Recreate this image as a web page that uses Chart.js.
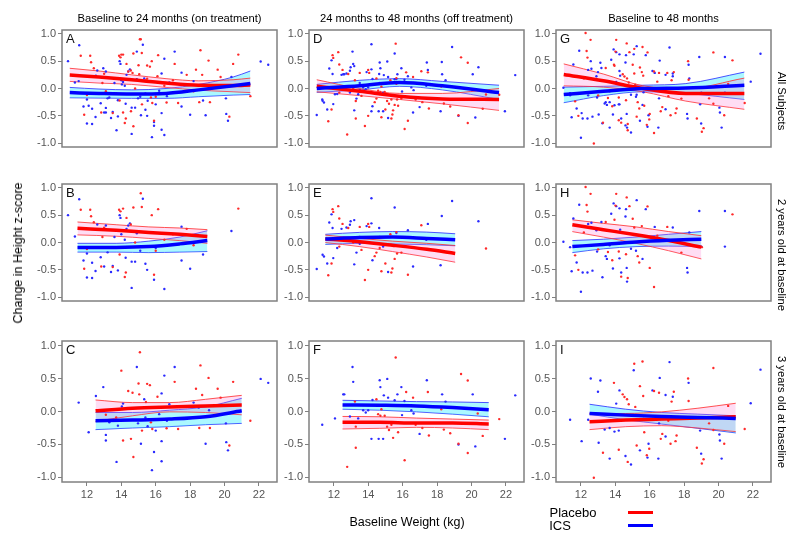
<!DOCTYPE html>
<html>
<head>
<meta charset="UTF-8">
<title>Change in Height z-score by Baseline Weight</title>
<script src="https://cdn.jsdelivr.net/npm/chart.js@4"></script>
<style>
  body { margin: 0; width: 800px; height: 544px; background: #fff; position: relative; overflow: hidden;
         font-family: "Liberation Sans", Arial, sans-serif; }
  .panel { position: absolute; }
  .txt { position: absolute; white-space: nowrap; color: #000; transform: translate(-50%, -50%); }
  .legline { position: absolute; height: 3px; width: 25px; }
</style>
</head>
<body>

<script>
  // ---- labels ----
  const colTitles = ['Baseline to 24 months (on treatment)', '24 months to 48 months (off treatment)', 'Baseline to 48 months'];
  const rowTitles = ['All Subjects', '2 years old at baseline', '3 years old at baseline'];
  const xTickValues = [12, 14, 16, 18, 20, 22];
  const yTickValues = [-1, -0.5, 0, 0.5, 1];

  // ---- scatter points [baseline weight, change in z-score] ----
  // 2 years old
  const placeboPtsB = [[11.64,0.6],[11.84,-0.48],[12.19,0.6],[12.24,0.48],[12.4,0.37],[12.83,-0.44],[13.87,0.6],[13.95,0.57],[14.1,0.62],[14.2,-0.63],[14.26,-0.55],[14.55,0.33],[14.7,0.64],[15.13,0.9],[15.19,0.65],[15.77,0.5],[16.14,0.61],[15.9,-0.59],[13.9,-0.22],[13.0,0.27],[14.8,0.0],[16.0,-0.15],[17.0,0.15],[18.2,-0.05],[20.8,0.62],[12.9,0.1],[15.5,0.18],[14.3,0.45],[13.5,-0.45],[12.0,-0.12],[16.5,0.05],[17.8,0.25]];
  const icsPtsB = [[10.9,0.5],[11.3,0.11],[11.55,0.79],[11.8,-0.33],[12.0,-0.64],[12.3,-0.65],[12.3,-0.37],[12.5,-0.52],[12.6,0.33],[12.8,-0.27],[13.1,0.31],[13.0,-0.44],[13.4,-0.54],[13.5,-0.43],[13.6,0.1],[13.8,-0.51],[13.9,0.5],[13.95,0.45],[14.2,0.05],[14.25,-0.28],[14.3,0.25],[14.4,0.31],[14.5,0.35],[14.6,-0.35],[14.6,-0.83],[14.8,-0.35],[15.1,-0.15],[15.25,0.8],[15.4,-0.39],[15.5,-0.5],[15.9,-0.68],[16.5,-0.85],[17.5,0.29],[17.5,-0.33],[18.0,-0.48],[18.75,-0.22],[20.4,0.21],[12.0,-0.2],[13.2,-0.18],[14.0,0.15],[16.0,-0.1],[14.9,0.17]];
  const placeboPtsE = [[11.67,-0.6],[11.86,-0.385],[11.92,0.61],[11.96,0.56],[12.25,0.665],[12.31,0.44],[12.31,-0.075],[12.5,0.34],[12.83,0.265],[13.12,0.0],[13.5,0.285],[13.6,-0.135],[13.8,-0.685],[13.99,-0.5],[13.99,0.34],[14.05,0.285],[14.37,-0.25],[14.47,-0.185],[14.76,-0.525],[14.99,-0.385],[15.28,0.15],[15.4,-0.475],[15.53,-0.3],[15.63,0.19],[15.67,-0.2],[15.92,-0.185],[16.3,-0.59],[17.08,0.315],[20.84,-0.11],[15.34,-0.55],[14.66,-0.1]];
  const icsPtsE = [[11.0,-0.485],[11.34,-0.225],[11.42,-0.255],[11.61,-0.385],[11.73,0.365],[11.86,0.515],[11.92,0.265],[11.96,-0.285],[12.19,-0.1],[12.44,0.25],[12.73,0.275],[12.93,0.325],[12.97,0.39],[13.18,0.41],[13.18,-0.4],[13.31,-0.185],[13.5,0.1],[13.9,0.3],[14.18,0.81],[14.24,-0.325],[14.18,0.35],[14.63,0.265],[14.66,0.1],[15.15,-0.54],[15.53,0.64],[15.63,0.175],[16.3,0.225],[16.6,-0.44],[17.46,0.34],[17.37,0.05],[18.2,-0.415],[18.27,0.485],[18.87,0.76],[20.4,0.39],[13.5,-0.025],[14.86,-0.075]];
  const placeboPtsH = [[11.66,-0.235],[11.85,-0.5],[12.17,0.185],[12.27,1.015],[12.33,0.685],[12.38,0.565],[12.56,0.89],[13.0,-0.125],[13.44,0.375],[13.57,-0.175],[13.82,-0.325],[13.95,0.415],[14.01,0.675],[14.05,0.89],[14.2,-0.165],[14.34,-0.625],[14.62,-0.215],[14.66,0.825],[14.72,-0.65],[14.82,0.665],[15.01,0.435],[15.1,0.275],[15.3,-0.25],[15.39,-0.365],[15.54,0.3],[15.87,0.66],[16.0,-0.465],[16.25,-0.815],[16.44,0.125],[17.02,0.285],[17.84,-0.185],[20.81,0.515],[19.03,-0.085]];
  const icsPtsH = [[10.98,0.015],[11.37,-0.085],[11.46,-0.525],[11.56,0.44],[11.75,-0.365],[11.9,0.69],[12.0,-0.9],[12.1,-0.55],[12.38,-0.55],[12.42,0.34],[12.61,0.36],[12.67,-0.515],[12.9,0.225],[12.94,-0.165],[13.19,0.375],[13.25,-0.635],[13.44,-0.25],[13.51,-0.3],[13.67,-0.05],[13.76,0.525],[13.86,-0.475],[13.9,0.715],[14.05,0.665],[14.24,0.625],[14.24,-0.29],[14.28,0.235],[14.34,-0.55],[14.59,0.475],[14.62,0.61],[14.66,-0.465],[14.68,-0.715],[14.91,-0.115],[15.2,-0.15],[15.24,0.775],[15.58,-0.3],[15.77,0.61],[16.29,0.285],[17.34,0.275],[18.17,-0.465],[18.2,-0.55],[18.88,0.575],[19.0,-0.075],[20.37,0.575],[20.37,-0.075],[18.3,0.185]];
  // 3 years old
  const placeboPtsC = [[14.0,0.62],[14.1,-0.44],[14.4,0.31],[14.56,-0.415],[14.65,0.285],[14.7,-0.69],[15.0,0.425],[15.04,0.26],[15.08,0.9],[15.43,0.145],[15.5,0.42],[15.66,0.4],[15.72,-0.165],[15.8,-0.265],[16.1,0.225],[16.63,-0.255],[17.1,0.45],[17.3,-0.265],[18.34,0.345],[18.53,-0.25],[18.6,0.7],[18.7,0.25],[19.07,0.51],[19.15,-0.25],[19.6,0.345],[19.77,0.21],[20.28,-0.515],[20.5,0.45],[21.5,-0.14],[13.1,-0.05],[15.2,-0.29],[13.7,-0.09]];
  const icsPtsC = [[11.52,0.135],[12.1,-0.315],[12.52,0.235],[12.95,0.37],[13.1,-0.44],[13.1,-0.355],[13.3,-0.165],[13.72,-0.765],[13.8,-0.215],[14.03,0.075],[14.1,0.12],[14.9,0.675],[14.97,-0.18],[15.14,-0.49],[15.33,0.185],[15.53,-0.225],[15.78,-0.89],[15.9,-0.615],[16.0,-0.29],[16.34,0.275],[16.34,-0.45],[16.34,-0.755],[16.5,0.545],[16.65,-0.14],[16.79,0.11],[17.1,0.675],[18.2,0.135],[18.5,0.06],[18.9,-0.49],[19.1,0.02],[20.1,-0.465],[20.2,-0.59],[20.08,-0.18],[22.1,0.495],[22.54,0.435],[16.2,-0.04],[15.4,-0.09]];
  const placeboPtsF = [[12.77,-0.84],[13.22,0.15],[13.27,-0.23],[13.27,-0.55],[14.47,0.185],[14.57,-0.04],[14.7,-0.065],[14.76,0.035],[14.95,-0.065],[15.09,-0.23],[15.2,-0.28],[15.34,-0.2],[15.44,-0.4],[15.59,0.82],[15.73,-0.315],[16.11,-0.74],[16.2,0.295],[16.6,0.21],[16.75,-0.2],[17.14,-0.25],[17.46,0.295],[17.52,-0.365],[18.24,0.035],[18.39,-0.275],[18.76,-0.33],[19.24,-0.49],[19.39,0.57],[19.78,0.47],[19.78,-0.63],[20.36,-0.03],[20.65,-0.37],[21.61,-0.115],[15.63,0.085]];
  const icsPtsF = [[11.32,-0.2],[12.06,-0.105],[12.54,0.26],[12.6,0.26],[12.93,-0.075],[13.08,0.675],[13.12,0.45],[13.41,-0.105],[13.7,0.02],[13.85,-0.015],[13.99,0.02],[14.18,-0.415],[14.24,0.175],[14.6,-0.415],[14.66,0.475],[14.7,0.37],[14.86,-0.415],[14.9,0.245],[15.1,0.495],[15.15,0.21],[15.53,0.17],[15.69,0.26],[15.92,0.37],[15.96,-0.055],[16.1,0.16],[16.5,0.02],[16.63,-0.03],[16.98,-0.34],[17.4,0.475],[18.29,0.26],[18.49,0.15],[19.24,-0.5],[20.07,0.26],[20.22,-0.53],[21.94,-0.415],[22.54,0.245]];
  const placeboPtsI = [[12.75,-1.005],[13.28,-0.625],[13.92,0.435],[14.2,-0.58],[14.43,0.26],[14.53,0.22],[14.68,0.185],[14.72,-0.765],[14.78,0.11],[15.1,0.725],[15.16,0.07],[15.24,-0.515],[15.43,0.385],[15.58,0.76],[15.62,0.235],[15.68,-0.315],[15.83,-0.665],[15.97,-0.565],[16.25,0.31],[16.54,0.285],[16.64,-0.415],[16.73,-0.34],[17.08,-0.14],[17.21,-0.49],[17.27,0.15],[17.4,0.3],[17.5,-0.45],[17.56,-0.365],[18.23,0.5],[18.26,0.16],[18.74,-0.55],[19.03,-0.79],[19.13,-0.725],[19.45,-0.18],[19.7,0.66],[19.7,-0.28],[20.33,-0.49],[20.56,0.085],[21.52,-0.265]];
  const icsPtsI = [[11.37,-0.125],[12.04,-0.45],[12.42,-0.125],[12.57,0.5],[12.99,0.3],[13.03,-0.475],[13.13,0.47],[13.38,-0.275],[13.67,-0.715],[13.95,-0.305],[14.05,0.12],[14.2,-0.29],[14.24,0.32],[14.59,-0.675],[14.91,-0.805],[15.07,0.625],[15.24,-0.115],[15.43,-0.59],[15.87,-0.7],[15.93,-0.49],[16.16,0.32],[16.5,-0.715],[16.54,-0.18],[16.58,0.51],[16.92,-0.38],[16.92,0.25],[17.15,0.75],[17.34,0.225],[18.26,0.435],[18.93,-0.29],[18.99,-0.64],[20.05,-0.35],[20.08,-0.44],[20.18,-0.715],[21.87,0.125],[22.44,0.635],[13.67,-0.25],[15.64,-0.07]];
  // all subjects = 2 years + 3 years
  const placeboPtsA = placeboPtsB.concat(placeboPtsC);
  const icsPtsA = icsPtsB.concat(icsPtsC);
  const placeboPtsD = placeboPtsE.concat(placeboPtsF);
  const icsPtsD = icsPtsE.concat(icsPtsF);
  const placeboPtsG = placeboPtsH.concat(placeboPtsI);
  const icsPtsG = icsPtsH.concat(icsPtsI);

  // ---- smoothed fits with confidence limits ----
  const knotsA = [11.0, 12.7, 14.6, 16.6, 18.5, 20.5, 21.5];
  const placeboA = { fit: [0.245, 0.21, 0.16, 0.10, 0.06, 0.055, 0.065], upper: [0.37, 0.32, 0.25, 0.18, 0.14, 0.16, 0.19], lower: [0.13, 0.10, 0.075, 0.02, -0.03, -0.06, -0.075] };
  const icsA = { fit: [-0.075, -0.09, -0.10, -0.09, -0.025, 0.05, 0.09], upper: [0.02, -0.01, -0.025, 0.0, 0.075, 0.21, 0.32], lower: [-0.17, -0.175, -0.18, -0.18, -0.15, -0.12, -0.11] };

  const knotsB = [11.45, 13.7, 15.6, 17.4, 19.0];
  const placeboB = { fit: [0.26, 0.225, 0.185, 0.15, 0.11], upper: [0.375, 0.325, 0.285, 0.265, 0.235], lower: [0.14, 0.115, 0.075, 0.035, -0.015] };
  const icsB = { fit: [-0.09, -0.09, -0.075, -0.025, 0.035], upper: [-0.015, -0.015, 0.025, 0.10, 0.215], lower: [-0.175, -0.175, -0.185, -0.175, -0.165] };

  const knotsC = [12.5, 14.65, 16.8, 18.9, 21.0];
  const placeboC = { fit: [0.01, 0.05, 0.07, 0.085, 0.10], upper: [0.175, 0.135, 0.135, 0.185, 0.245], lower: [-0.15, -0.065, -0.005, -0.015, -0.05] };
  const icsC = { fit: [-0.14, -0.13, -0.115, -0.08, 0.01], upper: [-0.015, -0.015, 0.02, 0.07, 0.20], lower: [-0.275, -0.25, -0.23, -0.20, -0.18] };

  const knotsD = [11.0, 13.5, 15.8, 18.3, 21.6];
  const placeboD = { fit: [0.04, -0.05, -0.14, -0.19, -0.20], upper: [0.16, 0.0, -0.09, -0.09, 0.0], lower: [-0.06, -0.13, -0.20, -0.28, -0.40] };
  const icsD = { fit: [0.0, 0.05, 0.11, 0.05, -0.075], upper: [0.075, 0.15, 0.18, 0.13, 0.06], lower: [-0.07, -0.025, 0.04, -0.025, -0.20] };

  const knotsE = [11.5, 13.5, 15.4, 17.4, 19.05];
  const placeboE = { fit: [0.065, 0.015, -0.05, -0.125, -0.20], upper: [0.135, 0.075, 0.025, -0.015, -0.055], lower: [0.0, -0.075, -0.165, -0.265, -0.36] };
  const icsE = { fit: [0.065, 0.09, 0.10, 0.075, 0.05], upper: [0.15, 0.185, 0.20, 0.19, 0.16], lower: [-0.035, -0.015, -0.025, -0.04, -0.06] };

  const knotsF = [12.5, 14.66, 16.8, 18.9, 21.0];
  const placeboF = { fit: [-0.165, -0.165, -0.175, -0.175, -0.19], upper: [-0.075, -0.08, -0.10, -0.115, -0.13], lower: [-0.265, -0.255, -0.24, -0.25, -0.275] };
  const icsF = { fit: [0.10, 0.095, 0.085, 0.06, 0.025], upper: [0.17, 0.16, 0.15, 0.145, 0.135], lower: [0.035, 0.02, -0.005, -0.04, -0.08] };

  const knotsG = [11.0, 13.3, 15.6, 18.1, 21.5];
  const placeboG = { fit: [0.255, 0.14, 0.0, -0.09, -0.09], upper: [0.45, 0.265, 0.05, 0.0, 0.19], lower: [0.05, 0.025, -0.06, -0.23, -0.38] };
  const icsG = { fit: [-0.11, -0.05, 0.0, 0.01, 0.06], upper: [0.025, 0.04, 0.06, 0.09, 0.30], lower: [-0.26, -0.13, -0.06, -0.09, -0.20] };

  const knotsH = [11.5, 13.3, 15.2, 17.1, 19.0];
  const placeboH = { fit: [0.325, 0.235, 0.14, 0.035, -0.085], upper: [0.415, 0.35, 0.285, 0.20, 0.125], lower: [0.20, 0.10, -0.015, -0.15, -0.30] };
  const icsH = { fit: [-0.075, -0.035, 0.01, 0.04, 0.06], upper: [0.035, 0.06, 0.10, 0.15, 0.20], lower: [-0.185, -0.115, -0.075, -0.065, -0.075] };

  const knotsI = [12.5, 14.6, 16.7, 18.8, 21.0];
  const placeboI = { fit: [-0.155, -0.13, -0.115, -0.10, -0.08], upper: [-0.03, -0.03, -0.005, 0.05, 0.125], lower: [-0.275, -0.23, -0.215, -0.25, -0.305] };
  const icsI = { fit: [-0.03, -0.055, -0.075, -0.09, -0.105], upper: [0.11, 0.035, -0.015, -0.04, -0.065], lower: [-0.04, -0.125, -0.19, -0.255, -0.325] };

  // ---- layout ----
  const colLeft = [62, 309, 556];
  const rowTop = [30, 184, 341];
  const panelW = 215, panelH = 141;
  const axisW = 44, padTop = 12, padRight = 6;
  const font = '"Liberation Sans", Arial, sans-serif';

  const panels = [
    [['A', knotsA, placeboA, icsA, placeboPtsA, icsPtsA], ['D', knotsD, placeboD, icsD, placeboPtsD, icsPtsD], ['G', knotsG, placeboG, icsG, placeboPtsG, icsPtsG]],
    [['B', knotsB, placeboB, icsB, placeboPtsB, icsPtsB], ['E', knotsE, placeboE, icsE, placeboPtsE, icsPtsE], ['H', knotsH, placeboH, icsH, placeboPtsH, icsPtsH]],
    [['C', knotsC, placeboC, icsC, placeboPtsC, icsPtsC], ['F', knotsF, placeboF, icsF, placeboPtsF, icsPtsF], ['I', knotsI, placeboI, icsI, placeboPtsI, icsPtsI]]
  ];

  // panel box + letter
  const framePlugin = {
    id: 'frame',
    afterDraw(chart, args, opts) {
      const { ctx, chartArea: a } = chart;
      ctx.save();
      ctx.strokeStyle = '#808080';
      ctx.lineWidth = 1.5;
      ctx.strokeRect(a.left, a.top, a.right - a.left, a.bottom - a.top);
      ctx.fillStyle = '#111';
      ctx.font = '13px ' + font;
      ctx.textBaseline = 'top';
      ctx.fillText(opts.letter, a.left + 4, a.top + 3);
      ctx.restore();
    }
  };

  const line = (xs, ys, color, width, extra) => Object.assign({
    data: xs.map((x, i) => ({ x: x, y: ys[i] })),
    showLine: true, borderColor: color, borderWidth: width, pointRadius: 0,
    cubicInterpolationMode: 'monotone'
  }, extra || {});
  const dots = (pts, color) => ({
    data: pts.map(p => ({ x: p[0], y: p[1] })),
    showLine: false, pointRadius: 1.2, pointBorderWidth: 0, backgroundColor: color, order: 1
  });

  function makePanel(r, c) {
    const [letter, knots, placebo, ics, ptsP, ptsI] = panels[r][c];
    const bottomRow = r === 2;
    const h = padTop + panelH + (bottomRow ? 26 : 10);
    const w = axisW + panelW + padRight;
    const div = document.createElement('div');
    div.className = 'panel';
    div.style.left = (colLeft[c] - axisW) + 'px';
    div.style.top = (rowTop[r] - padTop) + 'px';
    const cv = document.createElement('canvas');
    cv.width = w; cv.height = h;
    div.appendChild(cv);
    document.body.appendChild(div);

    new Chart(cv, {
      type: 'scatter',
      data: {
        datasets: [
          line(knots, ics.fit, '#0000ff', 3.5, { order: 0 }),
          line(knots, placebo.fit, '#ff0000', 3.5, { order: 0 }),
          dots(ptsP, '#ff2a2a'),
          dots(ptsI, '#2a2aff'),
          line(knots, placebo.upper, 'rgba(255,40,40,0.8)', 1, { order: 2, fill: '+1', backgroundColor: 'rgba(255,120,210,0.25)' }),
          line(knots, placebo.lower, 'rgba(255,40,40,0.8)', 1, { order: 2 }),
          line(knots, ics.upper, 'rgba(40,40,255,0.8)', 1, { order: 3, fill: '+1', backgroundColor: 'rgba(0,235,255,0.33)' }),
          line(knots, ics.lower, 'rgba(40,40,255,0.8)', 1, { order: 3 })
        ]
      },
      options: {
        responsive: false, animation: false, events: [],
        layout: { padding: { top: padTop, right: padRight, bottom: bottomRow ? 2 : 10, left: 0 } },
        plugins: { legend: { display: false }, tooltip: { enabled: false }, frame: { letter: letter } },
        scales: {
          x: {
            type: 'linear', min: 10.55, max: 23.05, display: bottomRow,
            afterBuildTicks: s => { s.ticks = xTickValues.map(v => ({ value: v })); },
            afterFit: s => { s.height = 24; },
            grid: { drawOnChartArea: false, tickLength: 4, color: '#808080' },
            border: { display: false },
            ticks: { padding: 2, color: '#555', font: { size: 11, family: font } }
          },
          y: {
            min: -1.07, max: 1.07,
            afterBuildTicks: s => { s.ticks = yTickValues.map(v => ({ value: v })); },
            afterFit: s => { s.width = axisW; },
            grid: { drawOnChartArea: false, tickLength: 4, color: '#808080' },
            border: { display: false },
            ticks: { padding: 2, color: '#555', font: { size: 11, family: font }, callback: v => v.toFixed(1) }
          }
        }
      },
      plugins: [framePlugin]
    });
  }

  for (let r = 0; r < 3; r++) for (let c = 0; c < 3; c++) makePanel(r, c);

  // ---- text ----
  function addText(str, x, y, size, rot) {
    const d = document.createElement('div');
    d.className = 'txt';
    d.textContent = str;
    d.style.left = x + 'px';
    d.style.top = y + 'px';
    d.style.fontSize = size + 'px';
    if (rot) d.style.transform = 'translate(-50%, -50%) rotate(' + rot + 'deg)';
    document.body.appendChild(d);
  }
  colTitles.forEach((t, c) => addText(t, colLeft[c] + panelW / 2, 18, 11.2, 0));
  rowTitles.forEach((t, r) => addText(t, 782, rowTop[r] + panelH / 2, 11.2, 90));
  addText('Change in Height z-score', 18, 253, 12.5, -90);
  addText('Baseline Weight (kg)', 407, 522, 12.5, 0);

  // legend
  addText('Placebo', 573, 512, 13, 0);
  addText('ICS', 560, 525, 13, 0);
  [['#ff0000', 510.5], ['#0000ff', 523.5]].forEach(([col, y]) => {
    const l = document.createElement('div');
    l.className = 'legline';
    l.style.left = '628px'; l.style.top = y + 'px'; l.style.background = col;
    document.body.appendChild(l);
  });
</script>
</body>
</html>
